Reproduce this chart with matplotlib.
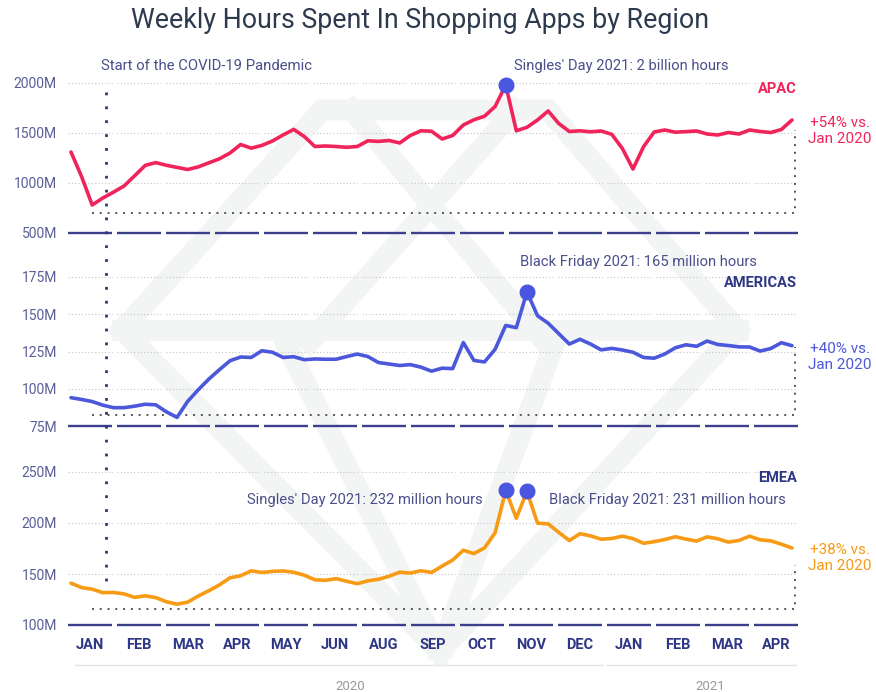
import numpy as np
import matplotlib
matplotlib.use("Agg")
import matplotlib.pyplot as plt
from matplotlib.transforms import blended_transform_factory
from matplotlib.lines import Line2D

plt.rcParams['font.family'] = ['Roboto', 'DejaVu Sans']

# ---------------- data ----------------
months = ["JAN", "FEB", "MAR", "APR", "MAY", "JUN", "AUG", "SEP",
          "OCT", "NOV", "DEC", "JAN", "FEB", "MAR", "APR"]

# weekly hours (millions), Jan 2020 -> Apr 2021
apac = [1310, 1064, 780, 850, 908, 970, 1072, 1176, 1204, 1177,
        1156, 1135, 1161, 1202, 1242, 1300, 1385, 1348, 1376, 1420,
        1480, 1536, 1465, 1365, 1370, 1365, 1357, 1365, 1422, 1416,
        1425, 1400, 1475, 1522, 1518, 1440, 1475, 1580, 1632, 1668,
        1765, 1980, 1522, 1557, 1630, 1720, 1595, 1515, 1522, 1512,
        1520, 1487, 1345, 1140, 1363, 1510, 1530, 1508, 1514, 1520,
        1490, 1480, 1505, 1490, 1530, 1515, 1505, 1535, 1630]

americas = [94.0, 92.8, 91.4, 89.0, 87.3, 87.3, 88.3, 89.6, 89.2, 84.5,
            80.8, 91.5, 99.3, 106.5, 112.8, 118.8, 121.3, 121.0, 125.5, 124.5,
            121.0, 121.5, 119.5, 120.0, 119.8, 119.8, 121.6, 123.3, 121.6, 117.6,
            116.6, 115.6, 116.2, 114.5, 111.8, 113.8, 113.5, 131.0, 119.0, 118.0,
            126.5, 142.5, 141.0, 165.0, 149.0, 144.0, 137.0, 130.0, 133.2, 130.0,
            126.1, 127.1, 126.0, 124.5, 121.0, 120.5, 123.3, 127.5, 129.5, 128.5,
            132.0, 129.7, 129.0, 128.1, 128.0, 125.3, 127.0, 130.9, 128.9]

emea = [141.0, 136.7, 135.1, 131.7, 131.9, 130.5, 127.1, 128.6, 126.8, 122.8,
        120.4, 122.4, 128.4, 133.6, 139.3, 146.3, 148.3, 153.1, 151.5, 152.6,
        153.0, 151.7, 148.8, 144.3, 143.8, 145.4, 142.9, 140.5, 143.3, 144.8,
        147.8, 151.8, 150.9, 153.2, 151.5, 157.8, 163.7, 173.3, 170.0, 175.6,
        190.4, 232.0, 204.6, 231.0, 199.8, 199.2, 190.8, 182.8, 189.5, 187.4,
        184.1, 184.8, 187.1, 184.7, 180.1, 181.7, 183.8, 186.5, 184.2, 182.3,
        186.4, 184.5, 181.3, 182.9, 187.1, 183.5, 182.5, 179.2, 175.5]

regions = ["APAC", "AMERICAS", "EMEA"]
yticks = [[500, 1000, 1500, 2000], [75, 100, 125, 150, 175], [100, 150, 200, 250]]
ref_low = [700, 82.5, 116]          # Jan 2020 reference level
ref_high = [1530, 127.7, 159]
changes = ["+54% vs.\nJan 2020", "+40% vs.\nJan 2020", "+38% vs.\nJan 2020"]
events = [
    [(41, "Singles' Day 2021: 2 billion hours")],
    [(43, "Black Friday 2021: 165 million hours")],
    [(41, "Singles' Day 2021: 232 million hours"), (43, "Black Friday 2021: 231 million hours")],
]
years = ["2020", "2021"]

# ---------------- styling ----------------
W, H = 876, 692
line_colors = ["#f0245a", "#4b58db", "#f79b15"]
label_colors = ["#f0245a", "#2e3785", "#2e3785"]
change_colors = ["#f0245a", "#4b58db", "#f79b15"]
navy = "#2e3785"
base_col = "#3b3f8c"
tick_col = "#5b5f97"
annot_col = "#4a4f8a"
marker_col = "#4a55e0"


def fx(x):
    return x / W


def fy(y):
    return 1 - y / H


fig = plt.figure(figsize=(8.76, 6.92), dpi=100)
fig.patch.set_facecolor("white")

# --- faint watermark (decorative background logo) ---
wm = fig.add_axes([0, 0, 1, 1], zorder=-5)
wm.set_xlim(0, W)
wm.set_ylim(H, 0)
wm.axis("off")
wm_paths = [
    [(122, 330), (322, 110), (548, 110), (738, 330), (440, 652), (122, 330)],
    [(122, 330), (738, 330)],
    [(352, 110), (545, 342)],
    [(515, 110), (310, 342)],
    [(285, 342), (440, 652)],
    [(555, 342), (440, 652)],
]
for p in wm_paths:
    xs, ys = zip(*p)
    wm.plot(xs, ys, color="#f3f4f4", lw=15, solid_joinstyle="miter",
            solid_capstyle="projecting")

# --- panels ---
x0_px, x1_px = 68, 796
xlim = ((x0_px - 90) / 49, (x1_px - 90) / 49)
n = len(apac)
x_start, x_end = (71 - 90) / 49, (792 - 90) / 49
xw = np.linspace(x_start, x_end, n)

panels = [(233, 60, 500, 0.1), (426, 252, 75, 37.25 / 25), (625, 452, 100, 51 / 50)]
series = [apac, americas, emea]
axes = []
for k, (bpx, tpx, ybase, ppu) in enumerate(panels):
    ax = fig.add_axes([fx(x0_px), fy(bpx), (x1_px - x0_px) / W, (bpx - tpx) / H])
    ax.set_facecolor("none")
    ytop = ybase + (bpx - tpx) / ppu
    ax.set_xlim(*xlim)
    ax.set_ylim(ybase, ytop)
    for s in ax.spines.values():
        s.set_visible(False)
    ax.set_xticks([])
    ax.set_yticks(yticks[k])
    ax.set_yticklabels([f"{t}M" for t in yticks[k]], color=tick_col, fontsize=10)
    ax.tick_params(axis="y", length=0, pad=8)
    # gridline & baseline segments
    for c in range(len(months)):
        for t in yticks[k][1:]:
            ax.plot([c - 0.44, c + 0.44], [t, t], color="#c4c4c4", lw=0.8,
                    ls=(0, (1, 2)), zorder=1)
        ax.plot([c - 0.44, c + 0.44], [yticks[k][0]] * 2, color=base_col, lw=1.7,
                solid_capstyle="butt", clip_on=False, zorder=3)
    # reference dotted bracket
    rx0, rx1 = (92 - 90) / 49, (795 - 90) / 49
    ax.plot([rx0, rx1, rx1], [ref_low[k], ref_low[k], ref_high[k]], color="#555555",
            lw=1.4, ls=(0, (1, 3)), clip_on=False, zorder=2)
    # series
    ax.plot(xw, series[k], color=line_colors[k], lw=2.6, solid_joinstyle="round",
            solid_capstyle="round", zorder=4)
    for idx, _ in events[k]:
        ax.plot(xw[idx], series[k][idx], "o", ms=10.5, color=marker_col, zorder=5,
                clip_on=False)
    axes.append(ax)

# COVID start line through all panels
covid_x = (106 - 90) / 49
tr = blended_transform_factory(axes[0].transData, fig.transFigure)
fig.add_artist(Line2D([covid_x, covid_x], [fy(92), fy(582)], transform=tr,
                      color="#2e3570", lw=2, ls=(0, (1, 4)), zorder=6))

# ---------------- texts ----------------
fig.text(fx(420), fy(20), "Weekly Hours Spent In Shopping Apps by Region",
         ha="center", va="center", fontsize=19.3, color="#2d3a4e")
fig.text(fx(101), fy(66), "Start of the COVID-19 Pandemic", ha="left", va="center",
         fontsize=10.7, color=annot_col)
fig.text(fx(514), fy(66), events[0][0][1], ha="left", va="center",
         fontsize=10.6, color=annot_col)
fig.text(fx(520), fy(262), events[1][0][1], ha="left", va="center",
         fontsize=10.6, color=annot_col)
fig.text(fx(483), fy(500), events[2][0][1], ha="right", va="center",
         fontsize=10.6, color=annot_col)
fig.text(fx(549), fy(500), events[2][1][1], ha="left", va="center",
         fontsize=10.6, color=annot_col)

region_y = [89, 283, 478]
change_y = [131, 357, 558]
for k in range(3):
    fig.text(fx(797), fy(region_y[k]), regions[k], ha="right", va="center",
             fontsize=10.5, fontweight="bold", color=label_colors[k])
    fig.text(fx(840), fy(change_y[k]), changes[k], ha="center", va="center",
             fontsize=11, color=change_colors[k], linespacing=1.2)

# month labels
axb = axes[2]
trm = blended_transform_factory(axb.transData, fig.transFigure)
for i, m in enumerate(months):
    axb.text(i, fy(645), m, transform=trm, ha="center", va="center",
             fontsize=10.5, fontweight="bold", color=navy)

# year brackets
fig.add_artist(Line2D([fx(75), fx(602)], [fy(665), fy(665)], color="#e4e4e4", lw=1))
fig.add_artist(Line2D([fx(607), fx(796)], [fy(665), fy(665)], color="#e4e4e4", lw=1))
fig.text(fx(350), fy(686), years[0], ha="center", va="center", fontsize=9.5, color="#9a9a9a")
fig.text(fx(710), fy(686), years[1], ha="center", va="center", fontsize=9.5, color="#9a9a9a")

fig.savefig("out.png", dpi=100)
